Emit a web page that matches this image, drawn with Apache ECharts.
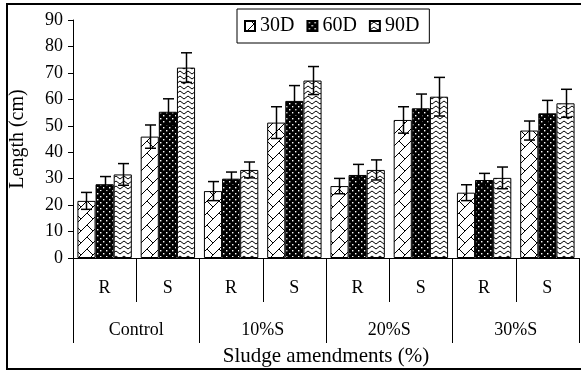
<!DOCTYPE html>
<html>
<head>
<meta charset="utf-8">
<script src="https://cdn.jsdelivr.net/npm/echarts@6/dist/echarts.min.js"></script>
<style>html,body{margin:0;padding:0;background:#fff;}#c{width:581px;height:374px;}</style>
</head>
<body>
<div id="c"></div>
<script>
// ---- data ----
var subCategories = ['R', 'S', 'R', 'S', 'R', 'S', 'R', 'S'];
var groups = ['Control', '10%S', '20%S', '30%S'];
var seriesNames = ['30D', '60D', '90D'];
var d30 = [21.6, 45.9, 25.3, 51.2, 27.2, 52.2, 24.7, 48.2];
var d60 = [27.9, 55.3, 30.0, 59.4, 31.4, 56.6, 29.5, 54.7];
var d90 = [31.6, 72.0, 33.3, 67.1, 33.3, 61.0, 30.3, 58.5];
var e30 = [3.2, 4.4, 3.6, 6.0, 2.9, 5.0, 3.0, 3.6];
var e60 = [2.9, 4.9, 2.5, 5.8, 4.0, 5.4, 2.5, 4.9];
var e90 = [4.1, 5.6, 3.0, 5.3, 3.8, 7.3, 4.1, 5.3];
var yTicks = {min: 0, max: 90, interval: 10};

// ---- patterns ----
function mk(w, h, draw) {
  var c = document.createElement('canvas');
  c.width = w; c.height = h;
  var g = c.getContext('2d');
  draw(g, w, h);
  return {image: c, repeat: 'repeat'};
}
var pat30 = mk(12, 12, function (g, w, h) {
  g.fillStyle = '#fff'; g.fillRect(0, 0, w, h);
  g.strokeStyle = '#000'; g.lineWidth = 1;
  g.beginPath();
  g.moveTo(0, 12); g.lineTo(12, 0);
  g.moveTo(3, 9); g.lineTo(6, 12);
  g.moveTo(6, 0); g.lineTo(9, 3);
  g.stroke();
});
var pat60 = mk(6, 6, function (g, w, h) {
  g.fillStyle = '#000'; g.fillRect(0, 0, w, h);
  g.fillStyle = '#fff';
  g.fillRect(1, 1, 1.4, 1.4);
  g.fillRect(4, 4, 1.4, 1.4);
});
var pat90 = mk(8, 5, function (g, w, h) {
  g.fillStyle = '#fff'; g.fillRect(0, 0, w, h);
  g.strokeStyle = '#000'; g.lineWidth = 1;
  g.beginPath();
  g.moveTo(0, 4); g.lineTo(4, 1); g.lineTo(8, 4);
  g.stroke();
});
var patterns = [pat30, pat60, pat90];
var vals = [d30, d60, d90];
var errs = [e30, e60, e90];

var CAT_GAP = 0.14;
var font = 'Liberation Serif';

function errSeries(k) {
  return {
    type: 'custom',
    xAxisIndex: 0,
    z: 5,
    silent: true,
    encode: {x: 0, y: 1},
    data: vals[k].map(function (v, i) { return [i, v, errs[k][i]]; }),
    renderItem: function (params, api) {
      var ci = api.value(0), v = api.value(1), e = api.value(2);
      var p = api.coord([ci, v]);
      var band = api.size([1, 0])[0];
      var bw = band * (1 - CAT_GAP) / 3;
      var cx = Math.round(p[0] + (k - 1) * bw) + 0.5;
      var top = api.coord([ci, v + e])[1];
      var bot = api.coord([ci, v - e])[1];
      var hw = 5.5;
      var st = {stroke: '#000', lineWidth: 1.5};
      return {
        type: 'group',
        children: [
          {type: 'line', shape: {x1: cx, y1: top, x2: cx, y2: bot}, style: st},
          {type: 'line', shape: {x1: cx - hw, y1: top, x2: cx + hw, y2: top}, style: st},
          {type: 'line', shape: {x1: cx - hw, y1: bot, x2: cx + hw, y2: bot}, style: st}
        ]
      };
    }
  };
}

var series = [];
for (var k = 0; k < 3; k++) {
  series.push({
    name: seriesNames[k],
    type: 'bar',
    xAxisIndex: 0,
    data: vals[k],
    barGap: '0%',
    barCategoryGap: (CAT_GAP * 100) + '%',
    itemStyle: {color: patterns[k], borderColor: '#000', borderWidth: 1},
    emphasis: {disabled: true}
  });
}
for (var k2 = 0; k2 < 3; k2++) series.push(errSeries(k2));

var chart = echarts.init(document.getElementById('c'), null, {renderer: 'canvas'});
chart.setOption({
  animation: false,
  backgroundColor: '#fff',
  textStyle: {fontFamily: font},
  grid: {left: 73, right: 2, top: 20, bottom: 116, containLabel: false},
  legend: {
    data: seriesNames,
    left: 237, top: 9,
    padding: [7, 10, 7, 7],
    itemWidth: 10, itemHeight: 10, itemGap: 12,
    borderColor: '#000', borderWidth: 1,
    icon: 'rect',
    textStyle: {fontFamily: font, fontSize: 20, color: '#000'}
  },
  xAxis: [
    {
      type: 'category',
      data: subCategories,
      position: 'bottom',
      boundaryGap: true,
      axisLine: {lineStyle: {color: '#000', width: 1}},
      axisTick: {show: true, interval: 0, length: 44, lineStyle: {color: '#000', width: 1}},
      axisLabel: {interval: 0, margin: 21, fontFamily: font, fontSize: 18, color: '#000'},
      splitLine: {show: false}
    },
    {
      type: 'category',
      data: groups,
      position: 'bottom',
      boundaryGap: true,
      axisLine: {show: false},
      axisTick: {show: true, interval: 0, length: 85, lineStyle: {color: '#000', width: 1}},
      axisLabel: {interval: 0, margin: 63, fontFamily: font, fontSize: 18, color: '#000'},
      splitLine: {show: false},
      name: 'Sludge amendments (%)',
      nameLocation: 'middle',
      nameGap: 88,
      nameTextStyle: {fontFamily: font, fontSize: 21, color: '#000'}
    }
  ],
  yAxis: {
    type: 'value',
    min: yTicks.min, max: yTicks.max, interval: yTicks.interval,
    axisLine: {show: true, lineStyle: {color: '#000', width: 1}},
    axisTick: {show: true, length: 5, lineStyle: {color: '#000'}},
    axisLabel: {margin: 10, fontFamily: font, fontSize: 18, color: '#000'},
    splitLine: {show: false},
    name: 'Length (cm)',
    nameLocation: 'middle',
    nameGap: 45,
    nameTextStyle: {fontFamily: font, fontSize: 20, color: '#000'}
  },
  graphic: [{
    type: 'rect',
    shape: {x: 7, y: 4, width: 700, height: 365},
    style: {fill: 'none', stroke: '#000', lineWidth: 2},
    silent: true, z: 100
  }],
  series: series
});
</script>
</body>
</html>
